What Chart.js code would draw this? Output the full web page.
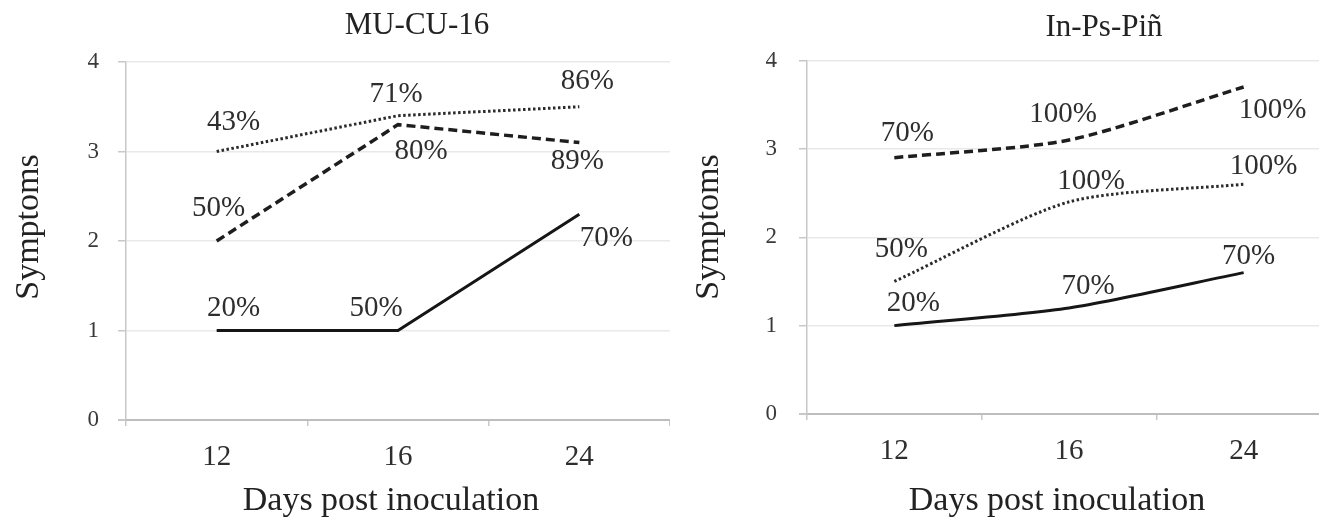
<!DOCTYPE html>
<html>
<head>
<meta charset="utf-8">
<script src="https://cdn.jsdelivr.net/npm/chart.js@4.4.1/dist/chart.umd.min.js"></script>
<style>
  html, body { margin: 0; padding: 0; background: #fff; overflow: hidden; }
  body { width: 1319px; height: 527px; position: relative; }
  canvas { position: absolute; top: 0; }
  #leftChart { left: 0; }
  #rightChart { left: 670px; }
</style>
</head>
<body>
<canvas id="leftChart" width="670" height="527"></canvas>
<canvas id="rightChart" width="661" height="527"></canvas>
<script>
// --- Data ---
const days = ['12', '16', '24'];

const mucuSolid  = [1.0, 1.0, 2.3];
const mucuDashed = [2.0, 3.3, 3.1];
const mucuDotted = [3.0, 3.4, 3.5];
const mucuSolidPct  = ['20%', '50%', '70%'];
const mucuDashedPct = ['50%', '80%', '89%'];
const mucuDottedPct = ['43%', '71%', '86%'];

const inpsSolid  = [1.0, 1.2, 1.6];
const inpsDashed = [2.9, 3.1, 3.7];
const inpsDotted = [1.5, 2.4, 2.6];
const inpsSolidPct  = ['20%', '70%', '70%'];
const inpsDashedPct = ['70%', '100%', '100%'];
const inpsDottedPct = ['50%', '100%', '100%'];

const SERIF = '"Liberation Serif", "Times New Roman", serif';

// --- Text plugin: panel title, axis titles and the % labels at each point ---
const panelText = {
  id: 'panelText',
  afterDatasetsDraw(chart, args, opts) {
    const ctx = chart.ctx;
    ctx.save();
    ctx.textAlign = 'center';
    ctx.textBaseline = 'middle';
    ctx.fillStyle = '#2e2e2e';
    ctx.font = '29px ' + SERIF;
    chart.data.datasets.forEach((ds, i) => {
      const meta = chart.getDatasetMeta(i);
      meta.data.forEach((pt, j) => {
        const off = opts.offsets[i][j];
        ctx.fillText(ds.pctLabels[j], pt.x + off[0], pt.y + off[1]);
      });
    });
    ctx.restore();
  },
  afterDraw(chart, args, opts) {
    const ctx = chart.ctx;
    ctx.save();
    ctx.textAlign = 'center';
    ctx.textBaseline = 'middle';
    ctx.fillStyle = '#222';
    ctx.font = '31px ' + SERIF;
    ctx.fillText(opts.title, opts.titleX, opts.titleY);
    ctx.font = '34px ' + SERIF;
    ctx.fillText('Days post inoculation', opts.xTitleX, opts.xTitleY);
    ctx.translate(opts.yTitleX, opts.yTitleY);
    ctx.rotate(-Math.PI / 2);
    ctx.fillText('Symptoms', 0, 0);
    ctx.restore();
  }
};

function makeChart(id, solid, dashed, dotted, pcts, geom) {
  return new Chart(document.getElementById(id), {
    type: 'line',
    data: {
      labels: days,
      datasets: [
        { label: 'solid', data: solid, pctLabels: pcts[0], borderColor: '#161616', borderWidth: 3, tension: geom.tension },
        { label: 'dashed', data: dashed, pctLabels: pcts[1], borderColor: '#1e1e1e', borderWidth: 3.5, borderDash: [9, 5], tension: geom.tension },
        { label: 'dotted', data: dotted, pctLabels: pcts[2], borderColor: '#2a2a2a', borderWidth: 3, borderDash: [2.5, 2.5], tension: geom.tension }
      ]
    },
    options: {
      responsive: false,
      animation: false,
      layout: { padding: { top: geom.top, left: 0, right: 0, bottom: 0 } },
      elements: { point: { radius: 0 }, line: { borderCapStyle: 'butt', fill: false } },
      plugins: {
        legend: { display: false },
        tooltip: { enabled: false },
        panelText: geom.text
      },
      scales: {
        x: {
          offset: true,
          grid: { offset: true, drawOnChartArea: false, tickLength: 6, color: '#c8c8c8', lineWidth: 1.5 },
          border: { color: '#bdbdbd', width: 2 },
          ticks: { font: { family: SERIF, size: 29 }, color: '#2e2e2e', padding: 14 },
          afterFit(s) { s.height = 527 - geom.bottom; }
        },
        y: {
          min: 0,
          max: 4,
          ticks: { stepSize: 1, font: { family: SERIF, size: 23 }, color: '#3a3a3a', padding: geom.tickPad },
          grid: {
            color: c => (c.tick && c.tick.value === 0) ? '#bdbdbd' : '#e9e9e9',
            lineWidth: c => (c.tick && c.tick.value === 0) ? 2 : 1.5,
            tickLength: 8,
            tickColor: '#c8c8c8'
          },
          border: { color: '#c8c8c8', width: 1.5 },
          afterFit(s) { s.width = geom.left; }
        }
      }
    },
    plugins: [panelText]
  });
}

makeChart('leftChart', mucuSolid, mucuDashed, mucuDotted,
  [mucuSolidPct, mucuDashedPct, mucuDottedPct],
  {
    top: 62, bottom: 420, left: 126, tickPad: 19, tension: 0,
    text: {
      title: 'MU-CU-16', titleX: 417, titleY: 26,
      xTitleX: 391, xTitleY: 501,
      yTitleX: 29, yTitleY: 227,
      offsets: [
        [[17, -22], [-22, -22], [27, 24]],
        [[2, -33], [23, 27], [-2, 19]],
        [[17, -29], [-2, -21], [8, -25]]
      ]
    }
  });

makeChart('rightChart', inpsSolid, inpsDashed, inpsDotted,
  [inpsSolidPct, inpsDashedPct, inpsDottedPct],
  {
    top: 60.5, bottom: 414, left: 137, tickPad: 22, tension: 0.25,
    text: {
      title: 'In-Ps-Piñ', titleX: 434, titleY: 28,
      xTitleX: 387, xTitleY: 501,
      yTitleX: 39, yTitleY: 227,
      offsets: [
        [[19, -22], [19, -22], [5, -16]],
        [[13, -24], [-6, -26], [29, 23]],
        [[7, -32], [22, -21], [20, -18]]
      ]
    }
  });
</script>
</body>
</html>
